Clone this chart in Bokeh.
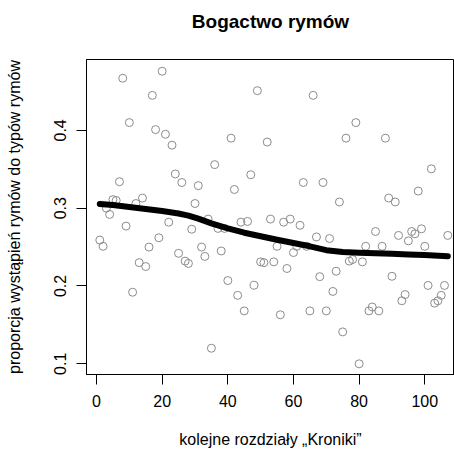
from bokeh.plotting import figure
from bokeh.models import Range1d, FixedTicker, LinearAxis, ColumnDataSource
from bokeh.embed import file_html
from bokeh.resources import INLINE

title_text = "Bogactwo rymów"
x_label = "kolejne rozdziały „Kroniki\u201d"
y_label = "proporcja wystąpień rymów do typów rymów"

chapters = list(range(1, 108))
proportion = [
    0.259, 0.251, 0.300, 0.292, 0.311, 0.310, 0.334, 0.467, 0.277, 0.410,
    0.192, 0.306, 0.230, 0.313, 0.225, 0.250, 0.445, 0.401, 0.262, 0.476,
    0.395, 0.282, 0.381, 0.344, 0.242, 0.333, 0.232, 0.229, 0.273, 0.306,
    0.329, 0.250, 0.238, 0.286, 0.120, 0.356, 0.274, 0.245, 0.274, 0.207,
    0.390, 0.324, 0.188, 0.282, 0.168, 0.283, 0.343, 0.201, 0.451, 0.231,
    0.230, 0.385, 0.286, 0.231, 0.251, 0.163, 0.282, 0.2225, 0.286, 0.243,
    0.251, 0.278, 0.333, 0.251, 0.168, 0.445, 0.263, 0.212, 0.333, 0.168,
    0.261, 0.193, 0.219, 0.308, 0.141, 0.390, 0.232, 0.234, 0.410, 0.100,
    0.231, 0.251, 0.168, 0.173, 0.270, 0.168, 0.251, 0.390, 0.313, 0.2125,
    0.308, 0.265, 0.181, 0.189, 0.258, 0.270, 0.267, 0.322, 0.2735, 0.251,
    0.2007, 0.3506, 0.178, 0.181, 0.188, 0.2007, 0.265,
]

smooth_x = [1, 5, 10, 15, 20, 25, 28, 31, 35, 40, 45, 50, 55, 60, 65, 70,
            75, 80, 85, 90, 95, 100, 107]
smooth_y = [0.3055, 0.304, 0.3015, 0.299, 0.2963, 0.2932, 0.2905, 0.2865, 0.2805,
            0.2740, 0.2685, 0.2640, 0.2595, 0.2553, 0.2510, 0.2460, 0.2438,
            0.2428, 0.2420, 0.2413, 0.2405, 0.2397, 0.2383]

x_ticks = [0, 20, 40, 60, 80, 100]
y_ticks = [0.1, 0.2, 0.3, 0.4]

FONT = "Liberation Sans"

p = figure(width=454, height=453,
           x_range=Range1d(-3.046, 109.05), y_range=Range1d(0.08625, 0.4911),
           output_backend="svg", toolbar_location=None,
           min_border_left=86, min_border_right=0, min_border_top=59, min_border_bottom=79,
           outline_line_color="black", outline_line_width=1,
           background_fill_color="white", border_fill_color="white")

p.grid.visible = False

for ax in (p.xaxis[0], p.yaxis[0]):
    ax.axis_line_color = "black"
    ax.axis_line_width = 1
    ax.major_tick_line_color = "black"
    ax.major_tick_line_width = 1
    ax.major_tick_in = 0
    ax.major_tick_out = 10
    ax.minor_tick_line_color = None
    ax.major_label_text_font = FONT
    ax.major_label_text_font_size = "16px"
    ax.major_label_text_color = "black"
    ax.axis_label_text_font = FONT
    ax.axis_label_text_font_size = "16px"
    ax.axis_label_text_font_style = "normal"
    ax.axis_label_text_color = "black"

p.xaxis.ticker = FixedTicker(ticks=x_ticks)
p.yaxis.ticker = FixedTicker(ticks=y_ticks)
p.xaxis.axis_label = x_label
p.yaxis.axis_label = y_label
p.xaxis.major_label_standoff = 10
p.xaxis.axis_label_standoff = 21
p.yaxis.major_label_orientation = "vertical"
p.yaxis.major_label_standoff = 10
p.yaxis.axis_label_standoff = 29

# chart title, placed above the frame like R's main title
title_axis = LinearAxis(ticker=FixedTicker(ticks=[-100]), axis_line_color=None,
                        major_tick_line_color=None, minor_tick_line_color=None,
                        major_label_text_font_size="0px", major_tick_out=0, major_tick_in=0,
                        major_label_standoff=0,
                        axis_label=title_text, axis_label_standoff=28,
                        axis_label_text_font=FONT, axis_label_text_font_size="19px",
                        axis_label_text_font_style="bold", axis_label_text_color="black")
p.add_layout(title_axis, "above")

src = ColumnDataSource(dict(ch=chapters, val=proportion))
p.scatter(x="ch", y="val", source=src, marker="circle", size=8,
          fill_color=None, line_color="#8c8c8c", line_width=1)
p.line(smooth_x, smooth_y, line_width=6, line_color="black", line_cap="round", line_join="round")

open("out.html", "w").write(file_html(p, INLINE))
